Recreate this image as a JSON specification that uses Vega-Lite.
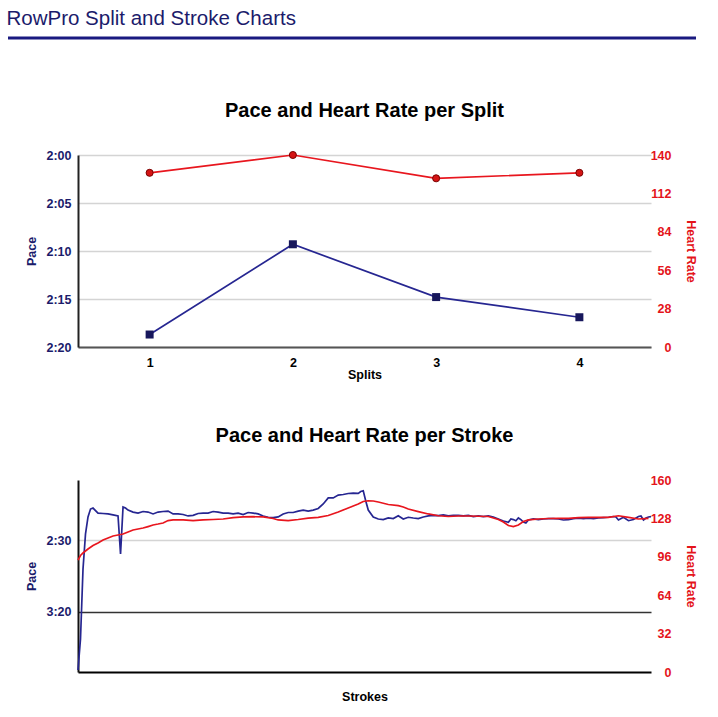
{
  "$schema": "https://vega.github.io/schema/vega-lite/v6.json",
  "padding": {"left": 6, "top": 9, "right": 0, "bottom": 0},
  "background": "white",
  "config": {
    "view": {"stroke": null},
    "font": "Liberation Sans",
    "axis": {"labelFont": "Liberation Sans", "titleFont": "Liberation Sans", "labelFontWeight": "bold", "titleFontWeight": "bold", "labelFontSize": 12.5, "titleFontSize": 12.5, "ticks": false},
    "title": {"font": "Liberation Sans"}
  },
  "datasets": {
    "splits": [
      {"split": 1, "pace": 138.7, "hr": 127},
      {"split": 2, "pace": 129.3, "hr": 140},
      {"split": 3, "pace": 134.8, "hr": 123},
      {"split": 4, "pace": 136.9, "hr": 127}
    ],
    "strokePace": [
      {"stroke": 1, "pace": 240.3}, {"stroke": 2, "pace": 218.8}, {"stroke": 3, "pace": 170.1}, {"stroke": 4, "pace": 145.8},
      {"stroke": 5, "pace": 134.0}, {"stroke": 6, "pace": 128.5}, {"stroke": 7, "pace": 127.8}, {"stroke": 9, "pace": 131.3},
      {"stroke": 11, "pace": 131.6}, {"stroke": 13, "pace": 131.9}, {"stroke": 15, "pace": 132.6}, {"stroke": 17, "pace": 133.3},
      {"stroke": 18, "pace": 159.7}, {"stroke": 19, "pace": 127.1}, {"stroke": 20, "pace": 127.8}, {"stroke": 21, "pace": 129.2},
      {"stroke": 23, "pace": 130.6}, {"stroke": 25, "pace": 131.3}, {"stroke": 27, "pace": 130.2}, {"stroke": 29, "pace": 130.6},
      {"stroke": 31, "pace": 131.9}, {"stroke": 33, "pace": 130.6}, {"stroke": 35, "pace": 130.2}, {"stroke": 37, "pace": 129.9},
      {"stroke": 39, "pace": 131.9}, {"stroke": 41, "pace": 131.9}, {"stroke": 43, "pace": 132.3}, {"stroke": 45, "pace": 133.3},
      {"stroke": 47, "pace": 132.9}, {"stroke": 49, "pace": 131.6}, {"stroke": 51, "pace": 131.3}, {"stroke": 53, "pace": 131.3},
      {"stroke": 55, "pace": 130.2}, {"stroke": 57, "pace": 130.6}, {"stroke": 59, "pace": 131.3}, {"stroke": 61, "pace": 131.3},
      {"stroke": 63, "pace": 131.9}, {"stroke": 65, "pace": 131.3}, {"stroke": 67, "pace": 132.3}, {"stroke": 69, "pace": 130.9},
      {"stroke": 71, "pace": 131.3}, {"stroke": 73, "pace": 131.9}, {"stroke": 75, "pace": 133.3}, {"stroke": 77, "pace": 134.2},
      {"stroke": 79, "pace": 134.4}, {"stroke": 81, "pace": 134.0}, {"stroke": 83, "pace": 131.9}, {"stroke": 85, "pace": 130.9},
      {"stroke": 87, "pace": 130.9}, {"stroke": 89, "pace": 129.9}, {"stroke": 91, "pace": 129.2}, {"stroke": 93, "pace": 129.9},
      {"stroke": 95, "pace": 129.2}, {"stroke": 97, "pace": 128.1}, {"stroke": 99, "pace": 125.0}, {"stroke": 101, "pace": 120.8},
      {"stroke": 103, "pace": 120.8}, {"stroke": 105, "pace": 118.8}, {"stroke": 107, "pace": 118.4}, {"stroke": 109, "pace": 117.7},
      {"stroke": 111, "pace": 117.4}, {"stroke": 113, "pace": 117.6}, {"stroke": 114, "pace": 116.3}, {"stroke": 115, "pace": 115.8},
      {"stroke": 116, "pace": 122.9}, {"stroke": 117, "pace": 129.2}, {"stroke": 119, "pace": 134.0}, {"stroke": 121, "pace": 135.4},
      {"stroke": 123, "pace": 135.8}, {"stroke": 125, "pace": 134.7}, {"stroke": 127, "pace": 135.1}, {"stroke": 129, "pace": 133.1},
      {"stroke": 131, "pace": 135.4}, {"stroke": 133, "pace": 134.2}, {"stroke": 135, "pace": 134.7}, {"stroke": 137, "pace": 135.1},
      {"stroke": 139, "pace": 134.0}, {"stroke": 141, "pace": 133.3}, {"stroke": 143, "pace": 132.9}, {"stroke": 145, "pace": 133.1},
      {"stroke": 147, "pace": 132.6}, {"stroke": 149, "pace": 133.3}, {"stroke": 151, "pace": 132.9}, {"stroke": 153, "pace": 132.9},
      {"stroke": 155, "pace": 133.3}, {"stroke": 157, "pace": 132.9}, {"stroke": 159, "pace": 133.7}, {"stroke": 161, "pace": 133.3},
      {"stroke": 163, "pace": 133.7}, {"stroke": 165, "pace": 133.3}, {"stroke": 167, "pace": 134.0}, {"stroke": 169, "pace": 135.4},
      {"stroke": 171, "pace": 136.8}, {"stroke": 173, "pace": 137.7}, {"stroke": 174, "pace": 135.4}, {"stroke": 175, "pace": 135.8},
      {"stroke": 176, "pace": 136.6}, {"stroke": 177, "pace": 134.7}, {"stroke": 178, "pace": 135.8}, {"stroke": 179, "pace": 137.5},
      {"stroke": 180, "pace": 138.2}, {"stroke": 181, "pace": 136.1}, {"stroke": 183, "pace": 135.4}, {"stroke": 185, "pace": 135.8},
      {"stroke": 187, "pace": 135.4}, {"stroke": 189, "pace": 135.1}, {"stroke": 191, "pace": 135.1}, {"stroke": 193, "pace": 135.4},
      {"stroke": 195, "pace": 136.1}, {"stroke": 197, "pace": 135.8}, {"stroke": 199, "pace": 135.1}, {"stroke": 201, "pace": 134.9},
      {"stroke": 203, "pace": 135.1}, {"stroke": 205, "pace": 134.9}, {"stroke": 207, "pace": 135.1}, {"stroke": 209, "pace": 134.7},
      {"stroke": 211, "pace": 134.4}, {"stroke": 213, "pace": 134.2}, {"stroke": 215, "pace": 133.7}, {"stroke": 216, "pace": 134.0},
      {"stroke": 217, "pace": 136.1}, {"stroke": 219, "pace": 134.2}, {"stroke": 221, "pace": 136.6}, {"stroke": 223, "pace": 135.8},
      {"stroke": 225, "pace": 133.7}, {"stroke": 226, "pace": 133.3}, {"stroke": 227, "pace": 136.1}, {"stroke": 228, "pace": 134.7},
      {"stroke": 229, "pace": 134.0}, {"stroke": 230, "pace": 133.8}
    ],
    "strokeHR": [
      {"stroke": 1, "hr": 93.3}, {"stroke": 2, "hr": 97.1}, {"stroke": 3, "hr": 99.2}, {"stroke": 5, "hr": 102.5},
      {"stroke": 7, "hr": 105.4}, {"stroke": 9, "hr": 107.5}, {"stroke": 11, "hr": 110.0}, {"stroke": 13, "hr": 111.7},
      {"stroke": 15, "hr": 113.3}, {"stroke": 17, "hr": 114.2}, {"stroke": 19, "hr": 115.0}, {"stroke": 21, "hr": 116.7},
      {"stroke": 23, "hr": 118.3}, {"stroke": 25, "hr": 119.2}, {"stroke": 27, "hr": 120.0}, {"stroke": 29, "hr": 121.2},
      {"stroke": 31, "hr": 122.5}, {"stroke": 33, "hr": 123.3}, {"stroke": 35, "hr": 124.2}, {"stroke": 37, "hr": 126.2},
      {"stroke": 39, "hr": 126.7}, {"stroke": 43, "hr": 126.7}, {"stroke": 47, "hr": 126.2}, {"stroke": 51, "hr": 126.7},
      {"stroke": 55, "hr": 127.1}, {"stroke": 59, "hr": 127.5}, {"stroke": 63, "hr": 128.7}, {"stroke": 67, "hr": 129.2},
      {"stroke": 71, "hr": 129.4}, {"stroke": 75, "hr": 129.2}, {"stroke": 79, "hr": 127.9}, {"stroke": 81, "hr": 126.7},
      {"stroke": 85, "hr": 126.1}, {"stroke": 89, "hr": 127.1}, {"stroke": 93, "hr": 128.3}, {"stroke": 97, "hr": 128.9},
      {"stroke": 101, "hr": 130.4}, {"stroke": 105, "hr": 133.3}, {"stroke": 109, "hr": 136.7}, {"stroke": 111, "hr": 138.3},
      {"stroke": 113, "hr": 140.0}, {"stroke": 115, "hr": 142.1}, {"stroke": 117, "hr": 142.7}, {"stroke": 119, "hr": 142.5},
      {"stroke": 121, "hr": 141.7}, {"stroke": 125, "hr": 139.6}, {"stroke": 129, "hr": 138.6}, {"stroke": 131, "hr": 137.5},
      {"stroke": 133, "hr": 135.8}, {"stroke": 137, "hr": 133.7}, {"stroke": 141, "hr": 131.7}, {"stroke": 145, "hr": 130.2},
      {"stroke": 149, "hr": 129.6}, {"stroke": 153, "hr": 130.0}, {"stroke": 157, "hr": 130.0}, {"stroke": 161, "hr": 129.8},
      {"stroke": 165, "hr": 129.6}, {"stroke": 169, "hr": 127.1}, {"stroke": 171, "hr": 125.0}, {"stroke": 173, "hr": 122.1},
      {"stroke": 175, "hr": 121.1}, {"stroke": 177, "hr": 122.5}, {"stroke": 179, "hr": 125.4}, {"stroke": 181, "hr": 126.7},
      {"stroke": 185, "hr": 127.5}, {"stroke": 189, "hr": 127.9}, {"stroke": 193, "hr": 128.1}, {"stroke": 197, "hr": 128.1},
      {"stroke": 201, "hr": 128.7}, {"stroke": 205, "hr": 128.9}, {"stroke": 209, "hr": 128.9}, {"stroke": 213, "hr": 128.9},
      {"stroke": 217, "hr": 130.2}, {"stroke": 221, "hr": 128.9}, {"stroke": 225, "hr": 127.5}, {"stroke": 229, "hr": 128.1}
    ]
  },
  "spacing": 45,
  "vconcat": [
    {
      "width": 688,
      "height": 18,
      "title": {"text": "RowPro Split and Stroke Charts", "anchor": "start", "fontSize": 20.5, "fontWeight": "normal", "color": "#1b1b6b", "offset": 7},
      "data": {"values": [{}]},
      "mark": {"type": "rule", "color": "#1a1a80", "strokeWidth": 3},
      "encoding": {"y": {"datum": 1, "type": "quantitative", "scale": {"domain": [0, 1]}, "axis": null}}
    },
    {
      "spacing": 16,
      "hconcat": [
        {"width": 1, "height": 1, "data": {"values": []}, "mark": "point"},
        {
          "width": 573,
          "height": 192,
          "title": {"text": "Pace and Heart Rate per Split", "fontSize": 20, "fontWeight": "bold", "color": "#000000", "offset": 28},
          "data": {"name": "splits"},
          "encoding": {
            "x": {"field": "split", "type": "ordinal", "scale": {"type": "point", "padding": 0.5},
              "axis": {"title": "Splits", "labelAngle": 0, "labelColor": "#000000", "titleColor": "#000000", "domainColor": "#555555", "domainWidth": 2, "labelPadding": 9, "titlePadding": 0, "grid": false}}
          },
          "layer": [
            {
              "mark": {"type": "line", "color": "#262691", "strokeWidth": 1.7, "point": {"shape": "square", "filled": true, "size": 64, "color": "#17175c"}},
              "encoding": {
                "y": {"field": "pace", "type": "quantitative", "scale": {"domain": [120, 140], "reverse": true, "nice": false, "zero": false},
                  "axis": {"orient": "left", "title": "Pace", "values": [120, 125, 130, 135, 140],
                    "labelExpr": "floor(datum.value/60) + ':' + (datum.value % 60 < 10 ? '0' : '') + round(datum.value % 60)",
                    "grid": true, "gridColor": "#d4d4d4", "gridWidth": 1.5, "domainColor": "#222222", "domainWidth": 2,
                    "labelColor": "#1b1b6b", "titleColor": "#1b1b6b", "labelPadding": 7, "titlePadding": 7}}
              }
            },
            {
              "mark": {"type": "line", "color": "#e8161e", "strokeWidth": 1.7, "point": {"shape": "circle", "filled": true, "size": 50, "fill": "#d41414", "stroke": "#7a0000", "strokeWidth": 1}},
              "encoding": {
                "y": {"field": "hr", "type": "quantitative", "scale": {"domain": [0, 140], "nice": false},
                  "axis": {"orient": "right", "title": "Heart Rate", "values": [0, 28, 56, 84, 112, 140], "grid": false, "domain": false,
                    "labelAlign": "right", "labelPadding": 20, "labelColor": "#e4141b", "titleColor": "#e4141b", "titlePadding": 12}}
              }
            }
          ],
          "resolve": {"scale": {"y": "independent"}}
        }
      ]
    },
    {
      "spacing": 16,
      "hconcat": [
        {"width": 1, "height": 1, "data": {"values": []}, "mark": "point"},
        {
          "width": 573,
          "height": 192,
          "title": {"text": "Pace and Heart Rate per Stroke", "fontSize": 20, "fontWeight": "bold", "color": "#000000", "offset": 28},
          "layer": [
            {
              "data": {"name": "strokePace"},
              "mark": {"type": "line", "color": "#262691", "strokeWidth": 1.7},
              "encoding": {
                "x": {"field": "stroke", "type": "quantitative", "scale": {"domain": [1, 230], "nice": false, "zero": false},
                  "axis": {"title": "Strokes", "labels": false, "grid": false, "domainColor": "#000000", "domainWidth": 2, "titlePadding": 18, "titleColor": "#000000"}},
                "y": {"field": "pace", "type": "quantitative", "scale": {"domain": [108.33, 241.67], "reverse": true, "nice": false, "zero": false},
                  "axis": {"orient": "left", "title": "Pace", "values": [150, 200],
                    "labelExpr": "floor(datum.value/60) + ':' + (datum.value % 60 < 10 ? '0' : '') + round(datum.value % 60)",
                    "grid": true, "gridColor": {"condition": {"test": "datum.value === 200", "value": "#333333"}, "value": "#d4d4d4"}, "gridWidth": 1.5,
                    "domainColor": "#111111", "domainWidth": 2, "labelColor": "#1b1b6b", "titleColor": "#1b1b6b", "labelPadding": 7, "titlePadding": 7}}
              }
            },
            {
              "data": {"name": "strokeHR"},
              "mark": {"type": "line", "color": "#e8161e", "strokeWidth": 1.7},
              "encoding": {
                "x": {"field": "stroke", "type": "quantitative"},
                "y": {"field": "hr", "type": "quantitative", "scale": {"domain": [0, 160], "nice": false},
                  "axis": {"orient": "right", "title": "Heart Rate", "values": [0, 32, 64, 96, 128, 160], "grid": false, "domain": false,
                    "labelAlign": "right", "labelPadding": 20, "labelColor": "#e4141b", "titleColor": "#e4141b", "titlePadding": 12}}
              }
            }
          ],
          "resolve": {"scale": {"y": "independent"}}
        }
      ]
    }
  ]
}
